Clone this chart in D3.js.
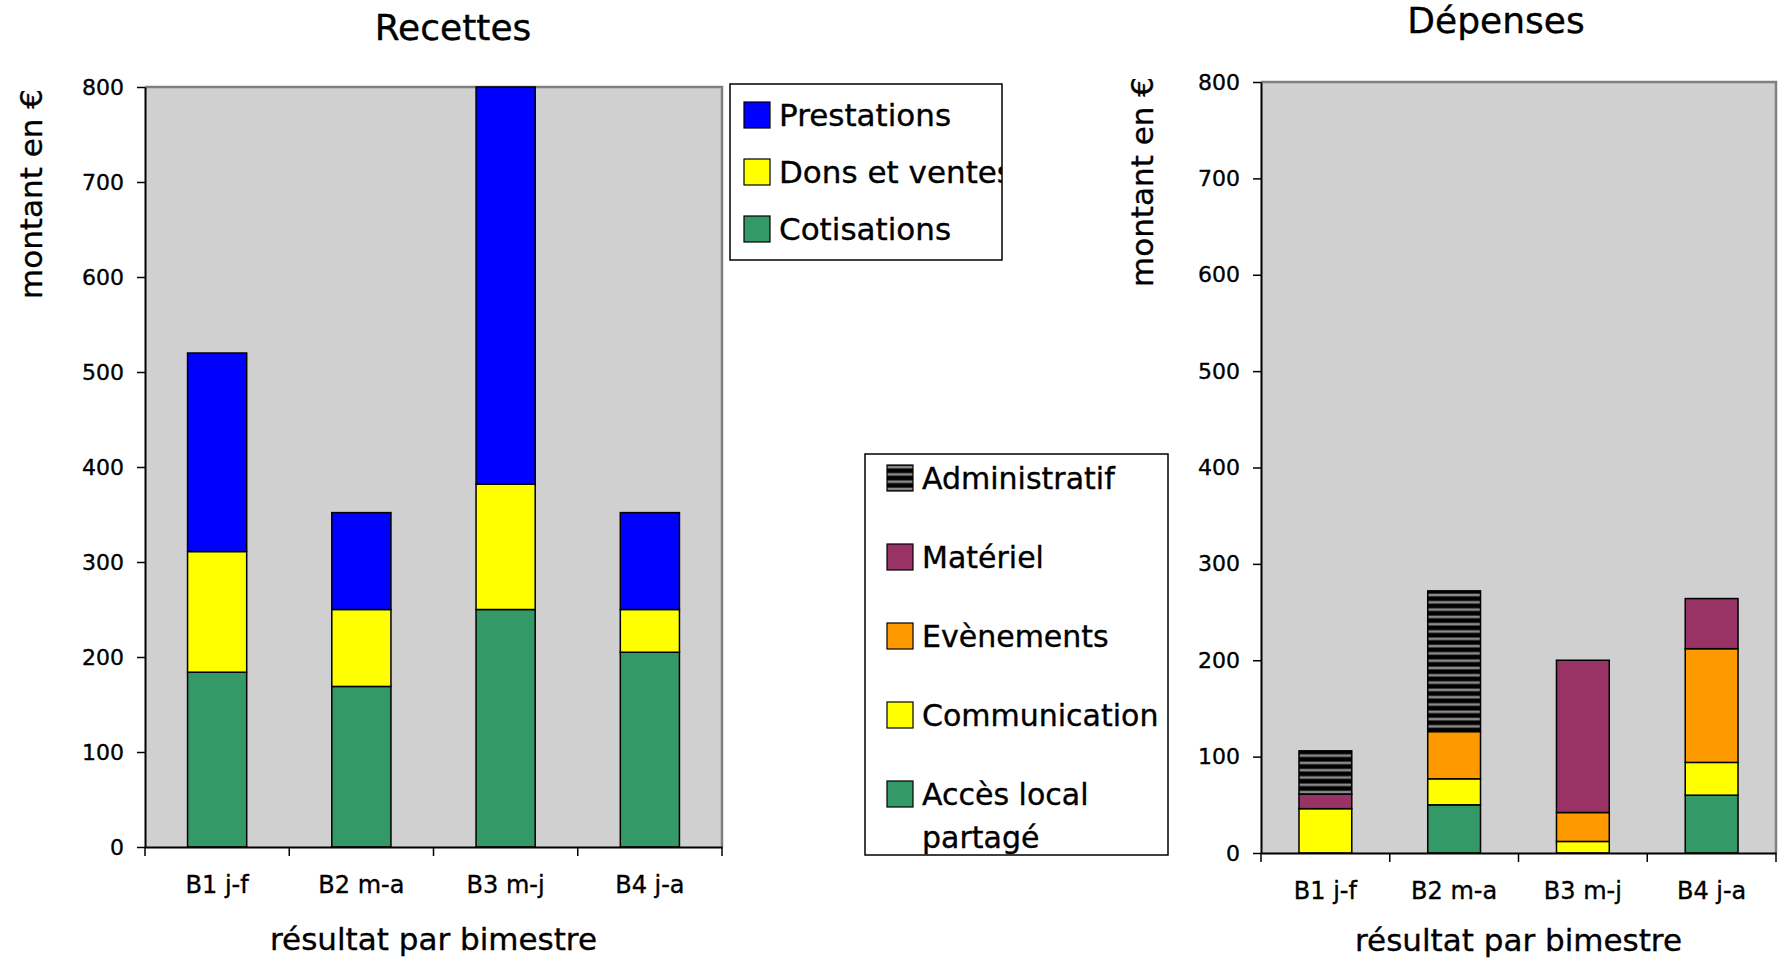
<!DOCTYPE html>
<html>
<head>
<meta charset="utf-8">
<script src="https://cdn.jsdelivr.net/npm/d3@7"></script>
<style>
  body { margin: 0; background: #fff; }
  text { font-family: "DejaVu Sans", Verdana, sans-serif; fill: #000; stroke: #000; stroke-width: 0.35px; }
</style>
</head>
<body>
<svg id="chart" width="1778" height="959"></svg>
<script>
// Bimestres (categories on both charts)
var periods = ['B1 j-f', 'B2 m-a', 'B3 m-j', 'B4 j-a'];
var yTicks = [0, 100, 200, 300, 400, 500, 600, 700, 800];

// Recettes, stacked bottom to top
var cotisations = [184, 169, 250, 205];
var donsVente = [127, 81, 132, 45];
var prestations = [209, 102, 418, 102];

// Dépenses, stacked bottom to top
var accesLocal = [0, 50, 0, 60];
var communication = [46, 27, 12, 34];
var evenements = [0, 49, 30, 118];
var materiel = [15, 0, 158, 52];
var administratif = [45, 146, 0, 0];

var svg = d3.select('#chart');

// striped fill used for "Administratif"
var pat = svg.append('defs').append('pattern')
  .attr('id', 'hatch')
  .attr('patternUnits', 'userSpaceOnUse')
  .attr('width', 10)
  .attr('height', 7.3);
pat.append('rect').attr('width', 10).attr('height', 7.3).attr('fill', '#000');
pat.append('rect').attr('y', 2.4).attr('width', 10).attr('height', 2.6).attr('fill', '#8a8a8a');

var recettesSeries = [
  { key: 'Cotisations', values: cotisations, color: '#339966' },
  { key: 'Dons et ventes', values: donsVente, color: '#ffff00' },
  { key: 'Prestations', values: prestations, color: '#0000ff' }
];

var depensesSeries = [
  { key: 'Accès local partagé', values: accesLocal, color: '#339966' },
  { key: 'Communication', values: communication, color: '#ffff00' },
  { key: 'Evènements', values: evenements, color: '#ff9900' },
  { key: 'Matériel', values: materiel, color: '#993366' },
  { key: 'Administratif', values: administratif, color: 'url(#hatch)' }
];

function drawPanel(cfg) {
  var x = d3.scaleBand().domain(periods).range([cfg.left, cfg.right]);
  var y = d3.scaleLinear().domain([0, 800]).range([cfg.bottom, cfg.top]);
  var g = svg.append('g');

  // plot background and grey frame
  g.append('rect')
    .attr('x', cfg.left).attr('y', cfg.top)
    .attr('width', cfg.right - cfg.left).attr('height', cfg.bottom - cfg.top)
    .attr('fill', '#d0d0d0');
  g.append('path')
    .attr('d', 'M' + cfg.left + ',' + cfg.top + 'H' + cfg.right + 'V' + cfg.bottom)
    .attr('fill', 'none').attr('stroke', '#808080').attr('stroke-width', 2.5);

  // stacked bars
  var keys = cfg.series.map(function(s) { return s.key; });
  var rows = periods.map(function(p, i) {
    var row = { period: p };
    cfg.series.forEach(function(s) { row[s.key] = s.values[i]; });
    return row;
  });
  var stacked = d3.stack().keys(keys)(rows);
  var barW = x.bandwidth() * 0.41;

  g.selectAll('g.layer')
    .data(stacked)
    .enter().append('g')
      .attr('class', 'layer')
      .attr('fill', function(d, i) { return cfg.series[i].color; })
    .selectAll('rect')
    .data(function(d) { return d.filter(function(v) { return v[1] - v[0] > 0; }); })
    .enter().append('rect')
      .attr('x', function(d) { return x(d.data.period) + (x.bandwidth() - barW) / 2; })
      .attr('y', function(d) { return y(d[1]); })
      .attr('width', barW)
      .attr('height', function(d) { return y(d[0]) - y(d[1]); })
      .attr('stroke', '#000')
      .attr('stroke-width', 1.5);

  // y axis
  var yAxis = g.append('g')
    .attr('transform', 'translate(' + cfg.left + ',0)')
    .call(d3.axisLeft(y).tickValues(yTicks).tickSize(8).tickSizeOuter(0).tickPadding(13));
  yAxis.select('.domain').attr('stroke-width', 2);
  yAxis.selectAll('.tick line').attr('stroke-width', 1.5);
  yAxis.selectAll('text')
    .attr('font-family', '"DejaVu Sans", Verdana, sans-serif')
    .attr('font-size', 22);

  // x axis: labels centred in bands, tick marks on band edges
  var xAxis = g.append('g')
    .attr('transform', 'translate(0,' + cfg.bottom + ')')
    .call(d3.axisBottom(x).tickSize(0).tickPadding(29));
  xAxis.select('.domain').attr('stroke-width', 2);
  xAxis.selectAll('text')
    .attr('font-family', '"DejaVu Sans", Verdana, sans-serif')
    .attr('font-size', 24);
  var edges = periods.map(function(p) { return x(p); }).concat([x.range()[1]]);
  xAxis.selectAll('line.edge')
    .data(edges)
    .enter().append('line')
      .attr('class', 'edge')
      .attr('x1', function(d) { return d; })
      .attr('x2', function(d) { return d; })
      .attr('y1', 0).attr('y2', 9)
      .attr('stroke', '#000').attr('stroke-width', 1.5);

  // titles
  g.append('text')
    .attr('x', cfg.titleX).attr('y', cfg.titleY)
    .attr('text-anchor', 'middle')
    .attr('font-size', 36)
    .text(cfg.title);
  g.append('text')
    .attr('transform', 'translate(' + cfg.yLabelX + ',' + cfg.yLabelY + ') rotate(-90)')
    .attr('text-anchor', 'middle')
    .attr('font-size', 31)
    .text('montant en €');
  g.append('text')
    .attr('x', (cfg.left + cfg.right) / 2).attr('y', cfg.xLabelY)
    .attr('text-anchor', 'middle')
    .attr('font-size', 31)
    .text('résultat par bimestre');
}

function drawLegend(cfg) {
  var g = svg.append('g');
  var clipId = 'clip-' + cfg.id;
  g.append('clipPath').attr('id', clipId)
    .append('rect')
      .attr('x', cfg.x).attr('y', cfg.y)
      .attr('width', cfg.w).attr('height', cfg.h);
  g.append('rect')
    .attr('x', cfg.x).attr('y', cfg.y)
    .attr('width', cfg.w).attr('height', cfg.h)
    .attr('fill', '#fff').attr('stroke', '#000').attr('stroke-width', 1.5);

  var items = g.append('g').attr('clip-path', 'url(#' + clipId + ')')
    .selectAll('g')
    .data(cfg.items)
    .enter().append('g')
      .attr('transform', function(d, i) { return 'translate(0,' + (cfg.firstRow + i * cfg.rowStep) + ')'; });

  items.append('rect')
    .attr('x', cfg.x + cfg.swatchX).attr('y', -13)
    .attr('width', 26).attr('height', 26)
    .attr('fill', function(d) { return d.color; })
    .attr('stroke', '#000').attr('stroke-width', 1.2);

  items.append('text')
    .attr('x', cfg.x + cfg.swatchX + 35)
    .attr('y', 11)
    .attr('font-size', cfg.fontSize)
    .each(function(d) {
      var lines = cfg.wrap[d.key] || [d.key];
      var t = d3.select(this);
      lines.forEach(function(line, j) {
        t.append('tspan')
          .attr('x', cfg.x + cfg.swatchX + 35)
          .attr('dy', j === 0 ? 0 : 43)
          .text(line);
      });
    });
}

drawPanel({
  title: 'Recettes', titleX: 453, titleY: 40,
  left: 145, right: 722, top: 87, bottom: 847,
  yLabelX: 42, yLabelY: 194, xLabelY: 950,
  series: recettesSeries
});

drawPanel({
  title: 'Dépenses', titleX: 1496, titleY: 33,
  left: 1261, right: 1776, top: 82, bottom: 853,
  yLabelX: 1153, yLabelY: 182, xLabelY: 951,
  series: depensesSeries
});

drawLegend({
  id: 'rec', x: 730, y: 84, w: 272, h: 176,
  swatchX: 14, firstRow: 115, rowStep: 57, fontSize: 31,
  items: recettesSeries.slice().reverse(), wrap: {}
});

drawLegend({
  id: 'dep', x: 865, y: 454, w: 303, h: 401,
  swatchX: 22, firstRow: 478, rowStep: 79, fontSize: 30,
  items: depensesSeries.slice().reverse(),
  wrap: { 'Accès local partagé': ['Accès local', 'partagé'] }
});
</script>
</body>
</html>
